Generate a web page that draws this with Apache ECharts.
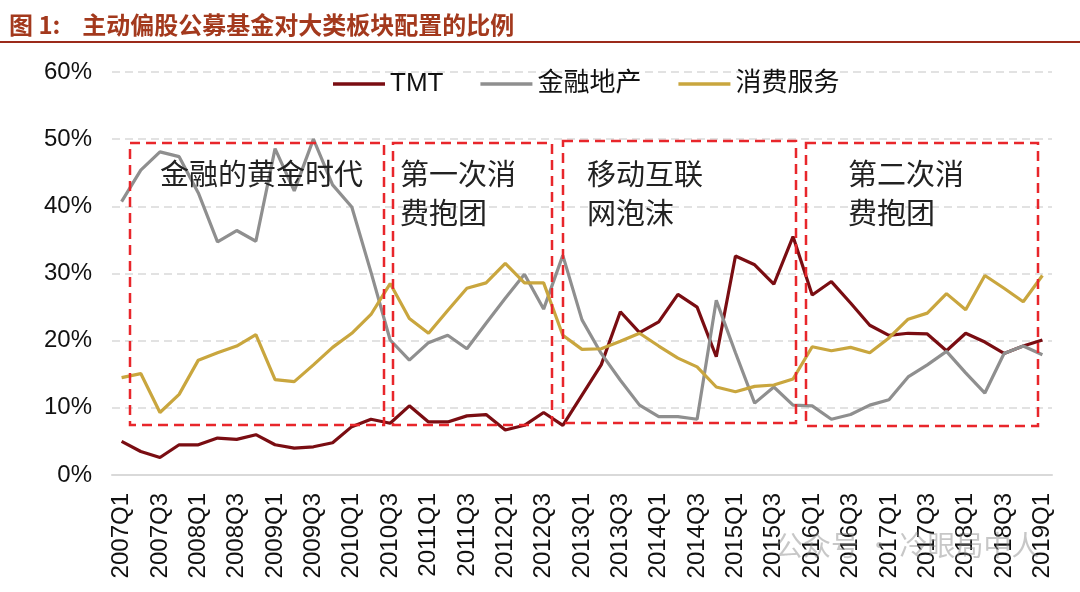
<!DOCTYPE html>
<html>
<head>
<meta charset="utf-8">
<script src="https://cdn.jsdelivr.net/npm/echarts@6/dist/echarts.min.js"></script>
<style>
html,body{margin:0;padding:0;background:#fff;}
#chart{width:1080px;height:592px;}
</style>
</head>
<body>
<div id="chart"></div>
<script>
// ---- data ----
const years = [2007,2008,2009,2010,2011,2012,2013,2014,2015,2016,2017,2018,2019];
const categories = [];
years.forEach(y => { for (let q = 1; q <= 4; q++) { if (y === 2019 && q > 1) break; categories.push(y + 'Q' + q); } });

const seriesNames = ['TMT', '金融地产', '消费服务'];

const tmt = [5.0,3.5,2.6,4.5,4.5,5.5,5.3,6.0,4.5,4.0,4.2,4.8,7.2,8.3,7.7,10.3,7.9,7.9,8.8,9.0,
  6.7,7.4,9.3,7.4,11.9,16.4,24.3,21.2,22.8,26.9,25.0,17.6,32.6,31.3,28.4,35.5,26.8,28.8,25.6,22.3,
  20.8,21.1,21.0,18.5,21.1,19.8,18.1,19.2,20.1];

const finance = [40.7,45.4,48.1,47.4,42.0,34.7,36.4,34.8,48.6,42.3,50.0,43.2,39.9,30.2,20.1,17.1,19.7,20.8,18.8,22.6,
  26.3,29.9,24.7,32.7,23.1,18.1,14.1,10.4,8.7,8.7,8.3,26.0,18.2,10.7,13.1,10.4,10.3,8.3,9.0,10.4,
  11.2,14.6,16.4,18.4,15.2,12.2,18.1,19.2,17.9];

const consumer = [14.5,15.1,9.3,12.0,17.1,18.2,19.2,20.9,14.2,13.9,16.4,19.0,21.1,23.9,28.5,23.3,21.1,24.5,27.8,28.6,
  31.5,28.6,28.6,20.8,18.7,18.8,19.9,21.1,19.2,17.4,16.1,13.1,12.4,13.2,13.4,14.3,19.1,18.5,19.0,18.2,
  20.4,23.2,24.1,27.0,24.6,29.7,27.8,25.8,29.7];

const yTicks = [0, 10, 20, 30, 40, 50, 60];

const titleText = '图 1:    主动偏股公募基金对大类板块配置的比例';
const annotations = [
  { text: '金融的黄金时代', x: 160 },
  { text: '第一次消\n费抱团', x: 400 },
  { text: '移动互联\n网泡沫', x: 587 },
  { text: '第二次消\n费抱团', x: 848 }
];
const boxes = [
  { x: 130, y: 143, w: 254, h: 282 },
  { x: 393, y: 143, w: 159, h: 282 },
  { x: 563, y: 141, w: 233, h: 282 },
  { x: 806, y: 143, w: 232, h: 283 }
];
const watermark = '公众号 · 冷眼局中人';

// ---- chart ----
const colors = ['#7a0d12', '#8f8f8f', '#c9a63e'];
const latin = 'Liberation Sans, Arial, "Noto Sans CJK SC", sans-serif';
const cjk = '"Noto Sans CJK SC", "Liberation Sans", sans-serif';

const chart = echarts.init(document.getElementById('chart'), null, { renderer: 'canvas' });

const graphics = [
  { type: 'line', shape: { x1: 0, y1: 42, x2: 1080, y2: 42 }, style: { stroke: '#9b2a1a', lineWidth: 2 }, z: 10 }
];
boxes.forEach(b => graphics.push({
  type: 'rect', shape: { x: b.x, y: b.y, width: b.w, height: b.h },
  style: { fill: 'none', stroke: '#e8262b', lineWidth: 2.5, lineDash: [10, 6] }, z: 10
}));
annotations.forEach(a => graphics.push({
  type: 'text', x: a.x, y: 154,
  style: { text: a.text, fill: '#222', font: '29px ' + cjk, lineHeight: 39, verticalAlign: 'top', align: 'left' }, z: 11
}));
graphics.push({
  type: 'text', x: 775, y: 545,
  style: { text: watermark, fill: 'rgba(130,130,130,0.45)', font: '28px ' + cjk, verticalAlign: 'middle', align: 'left' }, z: 12
});

chart.setOption({
  animation: false,
  backgroundColor: '#fff',
  color: colors,
  title: {
    text: titleText, left: 4, top: 8,
    textStyle: { color: '#a3391d', fontSize: 24, fontWeight: 'bold', fontFamily: cjk }
  },
  legend: {
    data: seriesNames, left: 328, top: 66, icon: 'rect',
    itemWidth: 52, itemHeight: 3.5, itemGap: 37,
    textStyle: { fontSize: 26, color: '#111', fontFamily: latin }
  },
  grid: { left: 112, right: 28, top: 72, bottom: 117, containLabel: false },
  xAxis: {
    type: 'category', data: categories, boundaryGap: true,
    axisLine: { lineStyle: { color: '#d9d9d9', width: 2 } },
    axisTick: { show: false },
    axisLabel: { interval: 1, rotate: 90, margin: 18, fontSize: 24, color: '#111', fontFamily: latin }
  },
  yAxis: {
    type: 'value', min: yTicks[0], max: yTicks[yTicks.length - 1], interval: 10,
    axisLine: { show: false }, axisTick: { show: false },
    axisLabel: { formatter: '{value}%', fontSize: 24, color: '#111', margin: 20, fontFamily: latin },
    splitLine: { lineStyle: { color: '#d9d9d9', type: [8, 5], width: 1.5 } }
  },
  series: [
    { name: seriesNames[0], type: 'line', data: tmt, symbol: 'none', lineStyle: { width: 3.2, color: colors[0] } },
    { name: seriesNames[1], type: 'line', data: finance, symbol: 'none', lineStyle: { width: 3.2, color: colors[1] } },
    { name: seriesNames[2], type: 'line', data: consumer, symbol: 'none', lineStyle: { width: 3.2, color: colors[2] } }
  ],
  graphic: graphics
});
</script>
</body>
</html>
